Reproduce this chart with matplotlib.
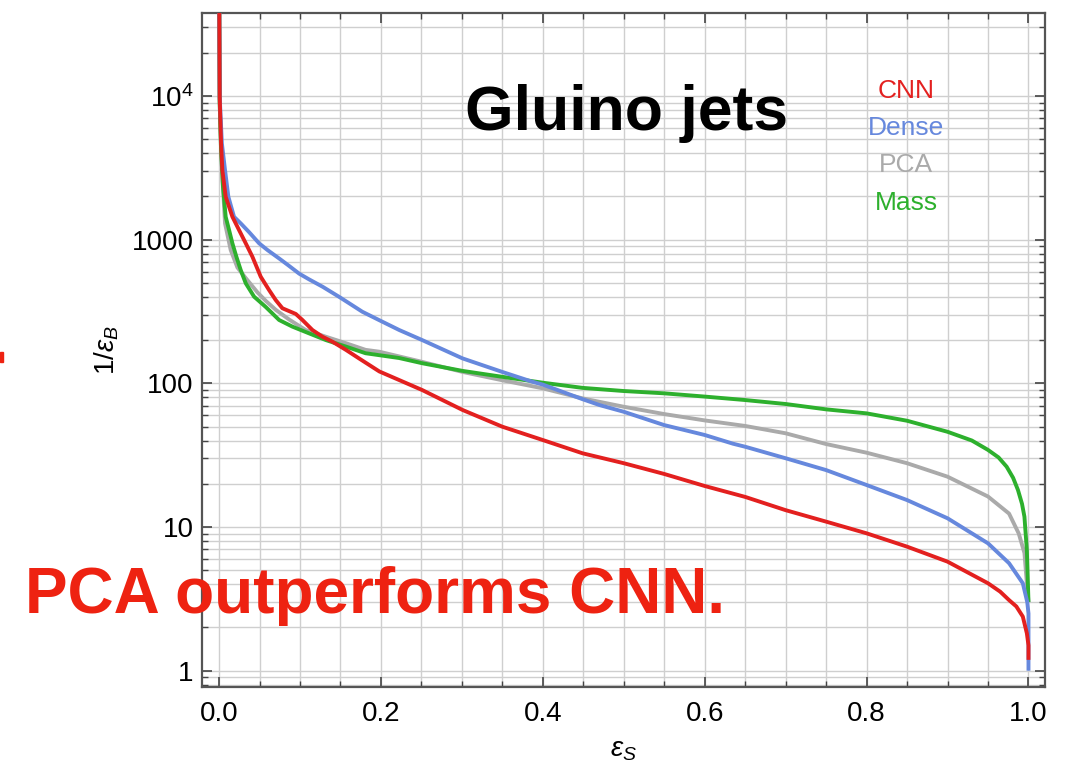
import matplotlib
matplotlib.use("Agg")
import matplotlib.pyplot as plt
import matplotlib.ticker as mticker
import numpy as np
from matplotlib.patches import Rectangle

# ROC curves: signal efficiency eps_S vs background rejection 1/eps_B
cnn_x = [0.0, 0.0008, 0.0025, 0.0041, 0.0082, 0.0165, 0.0247, 0.033, 0.0412, 0.0515,
         0.0618, 0.070, 0.0783, 0.0948, 0.103, 0.1154, 0.1278, 0.140, 0.1567, 0.173,
         0.198, 0.251, 0.301, 0.35, 0.40, 0.449, 0.50, 0.55, 0.60, 0.65, 0.70, 0.75,
         0.80, 0.85, 0.90, 0.95, 0.965, 0.976, 0.985, 0.993, 0.998, 1.0, 1.0]
cnn_y = [1e5, 9880, 4680, 3050, 1990, 1443, 1167, 943, 761, 552,
         446, 380, 333, 304, 276, 235, 211, 195, 171, 149,
         121, 89.8, 65.2, 49.9, 40.3, 32.6, 27.8, 23.4, 19.3, 16.2, 13.1, 10.9,
         9.04, 7.3, 5.74, 4.06, 3.55, 3.1, 2.8, 2.38, 1.82, 1.5, 1.19]

dense_x = [0.0, 0.0008, 0.0035, 0.0074, 0.0115, 0.0185, 0.0268, 0.037, 0.0495, 0.0598,
           0.0742, 0.0845, 0.099, 0.111, 0.128, 0.148, 0.161, 0.177, 0.198, 0.2226,
           0.251, 0.301, 0.350, 0.387, 0.40, 0.449, 0.47, 0.50, 0.55, 0.60, 0.635,
           0.65, 0.70, 0.75, 0.80, 0.85, 0.90, 0.95, 0.976, 0.993, 0.9985, 1.0, 1.0]
dense_y = [1e5, 9880, 4680, 3050, 1990, 1443, 1298, 1130, 943, 847,
           740, 670, 580, 530, 470, 401, 360, 315, 275, 235,
           200, 149, 120, 102.6, 98, 77.6, 70.6, 63.4, 51.2, 43.7, 38.0,
           36.2, 30.1, 24.9, 19.6, 15.4, 11.5, 7.7, 5.6, 4.06, 3.0, 2.5, 1.0]

pca_x = [0.0, 0.0008, 0.0025, 0.0045, 0.0074, 0.0144, 0.0227, 0.033, 0.0474, 0.0577,
         0.070, 0.0866, 0.107, 0.132, 0.157, 0.181, 0.198, 0.214, 0.251, 0.301,
         0.35, 0.40, 0.449, 0.50, 0.55, 0.60, 0.65, 0.70, 0.75, 0.80, 0.85, 0.90,
         0.95, 0.976, 0.988, 0.995, 0.998, 1.0]
pca_y = [1e5, 9000, 4200, 2500, 1298, 847, 640, 540, 430, 375,
         325, 278, 235, 211, 190, 171, 166, 158, 141, 120,
         105, 92.3, 78.6, 68.7, 61.1, 55.2, 50.5, 44.9, 37.8, 32.9, 27.8, 22.4,
         16.3, 12.4, 9.0, 6.6, 4.06, 3.0]

mass_x = [0.0, 0.0008, 0.0025, 0.0049, 0.0082, 0.0124, 0.0165, 0.0214, 0.0268, 0.033,
          0.0433, 0.0577, 0.0742, 0.0907, 0.111, 0.132, 0.157, 0.181, 0.198, 0.2226,
          0.251, 0.301, 0.35, 0.40, 0.449, 0.50, 0.55, 0.602, 0.65, 0.70, 0.75, 0.80,
          0.85, 0.90, 0.93, 0.95, 0.963, 0.973, 0.981, 0.987, 0.992, 0.995, 0.998, 1.0]
mass_y = [1e5, 9000, 4200, 2335, 1443, 1167, 943, 761, 614, 497,
          401, 340, 276, 248, 223, 200, 180, 162, 157, 150,
          138, 122, 111, 101, 93, 88.4, 85.2, 80.7, 76.5, 71.8, 65.9, 61.8,
          54.9, 46.0, 40.0, 34.4, 30.5, 26.3, 22.0, 18.1, 14.5, 11.8, 6.9, 3.0]

series_names = ["CNN", "Dense", "PCA", "Mass"]
series_colors = ["#E3201F", "#6688DD", "#AAAAAA", "#2DB02D"]

y_tick_vals = [1, 10, 100, 1000, 10000]
y_tick_labels = ["1", "10", "100", "1000", r"$\mathregular{10^4}$"]
x_tick_vals = [0.0, 0.2, 0.4, 0.6, 0.8, 1.0]
x_tick_labels = ["0.0", "0.2", "0.4", "0.6", "0.8", "1.0"]

plt.rcParams["font.family"] = ["Liberation Sans", "DejaVu Sans"]
plt.rcParams["mathtext.fontset"] = "custom"
plt.rcParams["mathtext.rm"] = "Liberation Sans"
plt.rcParams["mathtext.it"] = "Liberation Sans:italic"

fig = plt.figure(figsize=(10.69, 7.70), dpi=100)
ax = fig.add_axes([0.189, 0.1082, 0.789, 0.8745])

ax.set_yscale("log")
ax.set_xlim(-0.021, 1.021)
ax.set_ylim(0.774, 37600)

# grid: every 0.05 in x, every 1..9 x decade in y
grid_c = "#CFCFCF"
for gx in np.arange(0, 1.0001, 0.05):
    ax.axvline(gx, color=grid_c, lw=1.0, zorder=0)
for dec in [0.1, 1, 10, 100, 1000, 10000]:
    for m in range(1, 10):
        gy = m * dec
        if 0.774 < gy < 37600:
            ax.axhline(gy, color=grid_c, lw=1.0, zorder=0)

curves = {
    "CNN": (cnn_x, cnn_y),
    "Dense": (dense_x, dense_y),
    "PCA": (pca_x, pca_y),
    "Mass": (mass_x, mass_y),
}
zorders = {"CNN": 6, "Dense": 5, "PCA": 3, "Mass": 4}
for name, col in zip(series_names, series_colors):
    xs, ys = curves[name]
    ax.plot(xs, ys, color=col, lw=2.8, zorder=zorders[name],
            solid_joinstyle="round", solid_capstyle="butt")

# ticks
ax.set_xticks(x_tick_vals)
ax.set_xticklabels(x_tick_labels)
ax.xaxis.set_minor_locator(mticker.MultipleLocator(0.05))
ax.xaxis.set_minor_formatter(mticker.NullFormatter())
ax.set_yticks(y_tick_vals)
ax.set_yticklabels(y_tick_labels)
ax.yaxis.set_minor_locator(mticker.LogLocator(base=10, subs=np.arange(2, 10), numticks=20))
ax.yaxis.set_minor_formatter(mticker.NullFormatter())
ax.tick_params(which="both", direction="in", top=True, right=True,
               color="#444444", labelsize=20)
ax.tick_params(which="major", length=7, width=1.2)
ax.tick_params(which="minor", length=4.5, width=1.0)
ax.tick_params(axis="x", pad=10)
ax.tick_params(axis="y", pad=6)
for sp in ax.spines.values():
    sp.set_color("#555555")
    sp.set_linewidth(1.6)

ax.set_ylabel(r"$\mathregular{1/}\epsilon_B$", fontsize=20, va="center")
ax.yaxis.set_label_coords(-0.113, 0.5)
ax.set_xlabel(r"$\epsilon_S$", fontsize=20, va="center")
ax.xaxis.set_label_coords(0.5, -0.094)

# title inside the plot
fig.text(627 / 1069, 1 - 130 / 770, "Gluino jets", fontsize=45, fontweight="bold",
         ha="center", va="baseline", color="black")

# legend as coloured labels
leg_y = [91, 128, 165, 203]
for name, col, py in zip(series_names, series_colors, leg_y):
    fig.text(906 / 1069, 1 - py / 770, name, fontsize=19, color=col,
             ha="center", va="center")

fig.text(25 / 1069, 1 - 613 / 770, "PCA outperforms CNN.", fontsize=46,
         fontweight="bold", color="#EE2211", ha="left", va="baseline", zorder=10)

fig.patches.append(Rectangle((0, 1 - 362 / 770), 3 / 1069, 10 / 770,
                             transform=fig.transFigure, color="#EE2211"))

fig.savefig("out.png", dpi=100)
